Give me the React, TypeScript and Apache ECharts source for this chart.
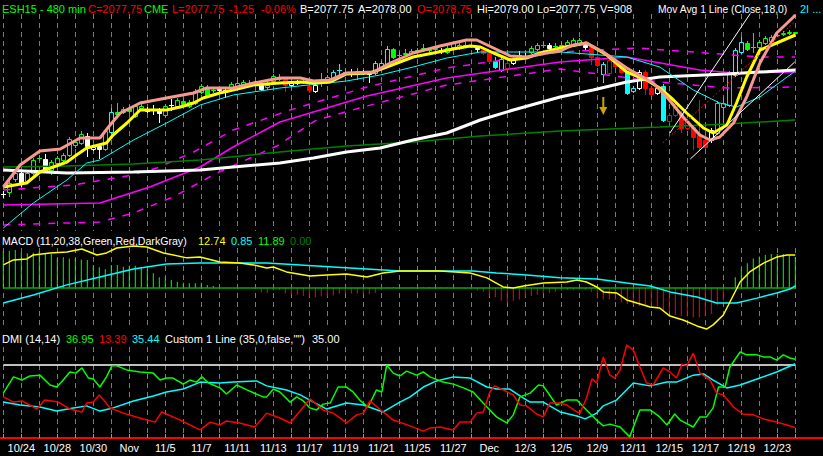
import React, { useEffect, useRef } from "react";
import * as echarts from "echarts";

// ---------------- data ----------------
const dayLabels = ["10/23","10/24","10/27","10/28","10/29","10/30","10/31","Nov","11/4","11/5","11/6","11/7","11/10","11/11","11/12","11/13","11/14","11/17","11/18","11/19","11/20","11/21","11/24","11/25","11/26","11/27","11/28","Dec","12/2","12/3","12/4","12/5","12/8","12/9","12/10","12/11","12/12","12/15","12/16","12/17","12/18","12/19","12/22","12/23","12/24"];
const barsPerDay = 3;

const barColorCodes =
  "WGGWGGGWGGGGGGWWWGCGGGGGWWWGWGGGGGGGWWGGGGWWGGG" +
  "RWWGRWGGCCGWGWWCCCGGGGGGGGWGGGGGWRRCCRWWWGGGWG" +
  "GGGGWRRCRRRCCWRRWCRRRRRRRWGGGCCGGGGGGGGG";

const opens = [1917,1919,1932,1938,1930,1938,1953,1952,1941,1948,
1951,1956,1966,1968,1975,1962,1965,1962,1979,1999,
1999,2003,1995,2003,2002,2002,2001,1996,2006,2005,
2010,2005,2008,2019,2022,2021,2022,2021,2024,2025,
2026,2028,2029,2026,2024,2030,2032,2033,2026,2029,
2030,2025,2020,2031,2029,2031,2041,2039,2039,2038,
2039,2038,2038,2043,2046,2062,2056,2057,2058,2060,
2062,2061,2062,2061,2059,2064,2063,2066,2065,2063,
2061,2058,2050,2041,2043,2048,2054,2055,2059,2062,
2066,2066,2065,2065,2066,2067,2068,2066,2064,2054,
2037,2038,2051,2046,2039,2020,2023,2039,2023,2018,
2025,1990,1996,1998,1983,1984,1976,1971,1971,1978,
2004,2006,2036,2059,2068,2064,2064,2068,2070,2076,
2077,2078,2078.75];

const closes = [1917,1928,1938,1928,1938,1951,1953,1940,1949,1953,
1956,1972,1969,1977,1965,1964,1962,1980,1999,1997,
2002,2000,2005,2005,2000,2001,1998,2005,2006,2011,
2007,2009,2020,2025,2016,2021,2021,2019,2027,2028,
2029,2028,2028,2022,2026,2035,2034,2026,2028,2028,
2030,2021,2026,2031,2034,2039,2041,2039,2039,2040,
2038,2037,2048,2048,2062,2054,2056,2058,2060,2061,
2063,2061,2063,2061,2063,2068,2066,2066,2066,2062,
2058,2050,2044,2052,2048,2051,2056,2055,2063,2066,
2066,2063,2065,2066,2069,2071,2071,2064,2054,2046,
2047,2051,2045,2039,2018,2023,2039,2023,2017,2023,
1991,1996,2007,1983,1990,1974,1964,1964,1981,2008,
2008,2038,2061,2069,2062,2064,2069,2073,2074,2076,
2078,2079,2077.75];

const lows = [1913,1914,1929,1924,1928,1936,1950,1938,1936,1946,
1949,1954,1963,1966,1954,1960,1952,1960,1977,1995,
1997,1998,1993,2000,1998,1996,1988,1994,2000,2003,
2005,2003,2006,2017,2014,2018,2019,2013,2022,2023,
2024,2025,2026,2020,2021,2028,2030,2019,2024,2026,
2027,2018,2018,2024,2027,2029,2035,2036,2034,2031,
2036,2028,2036,2041,2044,2052,2053,2054,2056,2058,
2059,2058,2060,2057,2057,2062,2061,2063,2063,2058,
2056,2048,2042,2039,2041,2046,2052,2052,2057,2060,
2063,2062,2062,2063,2064,2065,2066,2061,2046,2044,
2028,2036,2043,2037,2016,2018,2021,2016,2015,2016,
1989,1988,1994,1978,1981,1961,1961,1962,1968,1976,
1988,2004,2034,2057,2060,2058,2062,2066,2068,2074,
2075,2076,2077.75];

const highs = [1920,1930,1940,1939,1940,1953,1956,1957,1951,1955,
1958,1974,1972,1980,1978,1966,1967,1982,2003,2008,
2004,2006,2007,2010,2004,2006,2003,2007,2012,2013,
2012,2011,2022,2027,2026,2024,2024,2023,2029,2030,
2031,2031,2030,2028,2029,2037,2037,2034,2030,2031,
2033,2027,2028,2038,2036,2041,2047,2042,2042,2043,
2041,2040,2050,2050,2065,2063,2059,2062,2062,2063,
2067,2063,2065,2063,2065,2070,2068,2069,2068,2064,
2063,2059,2054,2054,2050,2053,2060,2058,2065,2068,
2069,2068,2068,2068,2071,2073,2073,2068,2066,2055,
2049,2053,2053,2048,2040,2025,2041,2041,2024,2025,
2027,1998,2009,2000,1992,1986,2011,1973,1983,2010,
2014,2040,2063,2074,2070,2078,2071,2075,2076,2078,
2080,2081,2079];

const lastVolume = 908;
const netChange = -1.25;
const bidPrice = 2077.75;
const askPrice = 2078.0;

// price-panel averages: [bar index, price]
const pinkAvg = [[0,1924],[2.8,1946],[6.1,1960],[9.5,1962],[12.8,1973],[16.1,1973],[17.8,1986],[19.5,1998],[22.8,2008],[27.2,2013],[31.7,2018],[33.9,2023],[38.3,2023],[41.7,2028],[46.1,2033],[49.5,2033],[51.7,2030],[54.5,2031],[57.2,2038],[61.7,2039],[64.5,2048],[68.3,2058],[72.8,2065],[77.2,2071],[78.9,2071],[81.7,2063],[84.5,2055],[87.2,2054],[90.6,2058],[92.8,2060],[95,2066],[97.2,2068],[100,2059],[103.9,2043],[108.3,2028],[110.6,2014],[113.3,1994],[116.1,1976],[117.8,1971],[119.4,1974],[121.7,1988],[123.9,2014],[126.1,2048],[128.9,2078],[131.7,2094],[132,2096]];
const yellowAvg = [[0,1924],[3.9,1928],[6.1,1939],[10.6,1949],[12.2,1956],[13.9,1963],[17.2,1968],[18.3,1976],[20.6,1988],[22.8,2001],[27.2,2001],[29.5,2004],[31.7,2008],[33.3,2013],[36.1,2018],[38.3,2021],[41.7,2026],[46.1,2028],[49.5,2029],[51.7,2028],[54.5,2029],[57.2,2037],[61.1,2038],[63.9,2044],[68.3,2054],[71.7,2058],[75,2062],[77.8,2065],[79.5,2064],[81.7,2058],[84.5,2051],[87.2,2053],[89.5,2058],[92.8,2063],[97.2,2068],[100.6,2056],[103.9,2039],[107.2,2031],[109.4,2023],[111.7,2011],[113.9,1998],[116.7,1983],[118.3,1978],[120.6,1986],[122.2,2008],[123.9,2034],[126.1,2061],[128.9,2068],[132,2076]];
const cyanAvg = [[0,1883],[5,1908],[10.6,1931],[13.9,1948],[16.1,1951],[21.7,1971],[27.2,1988],[32.8,2006],[38.3,2016],[46.1,2023],[57.2,2030],[62.8,2036],[68.3,2044],[73.9,2053],[79.5,2059],[85,2059],[92.8,2059],[103.9,2054],[109.4,2044],[115,2021],[119.4,2008],[122.2,2004],[126.1,2014],[132,2040]];
const whiteAvg = [[0,1941],[10.6,1938],[21.7,1939],[32.8,1941],[38.3,1944],[46.1,1948],[51.7,1953],[57.2,1959],[62.8,1963],[68.3,1971],[73.9,1978],[79.5,1991],[85,2001],[92.8,2014],[98.3,2021],[103.9,2029],[109.4,2034],[120.6,2037],[132,2041]];
const greenAvg = [[0,1944],[10.6,1945],[21.7,1947],[32.8,1951],[46.1,1959],[57.2,1965],[68.3,1969],[79.5,1975],[92.8,1980],[109.4,1984],[120.6,1987],[132,1991]];
const magentaMid = [[0,1906],[16.1,1908],[24.4,1924],[32.8,1944],[38.3,1964],[46.1,1989],[60.6,2015],[73.9,2033],[92.8,2049],[103.9,2054],[116.1,2041],[121.7,2038],[132,2039]];
const magentaUpper = [[0,1921],[11.7,1926],[20.6,1935],[25.6,1943],[31.7,1959],[38.3,1981],[47.8,2001],[60.6,2024],[73.9,2043],[92.8,2059],[105.6,2063],[115,2059],[126.1,2054],[132,2054]];
const magentaLower = [[0,1886],[10.6,1888],[16.1,1889],[21.7,1898],[28.3,1914],[35.6,1938],[45.6,1965],[52.2,1991],[60.6,2005],[73.9,2026],[92.8,2042],[109.4,2029],[120.6,2023],[132,2024]];

// drawn trendlines
const trendWhiteA = [[111.1,1978],[124.9,2101]];
const trendWhiteB = [[114.5,1952],[131.9,2049]];
const trendRed = [[109.9,1968],[131.9,2089]];
const arrowMark = [[100,2005]];

// MACD (11,20,38)
const macdHist = [14.2,14.2,14.6,13.7,13.4,13.6,14.2,13.1,13.1,11.4,
11.8,11.4,11.4,11.0,10.8,8.9,8.0,7.2,8.9,8.9,
8.2,8.6,8.6,8.0,7.3,5.7,4.1,4.1,3.1,2.4,
2.0,1.8,1.8,2.0,1.2,0.8,0.1,0.0,-0.1,0.1,
-0.2,-0.1,-0.3,-1.7,-1.8,-0.8,-0.8,-2.1,-2.6,-2.6,
-3.1,-3.6,-3.6,-3.3,-3.3,-2.9,-2.2,-2.1,-2.1,-2.1,
-2.2,-2.4,-1.8,-0.8,0.2,0.3,0.2,0.1,0.2,0.1,
0.2,0.3,0.2,0.1,0.1,-0.1,-0.2,-0.3,-0.5,-1.0,
-1.4,-3.3,-3.6,-4.9,-5.6,-4.9,-4.4,-3.6,-3.1,-2.6,
-2.1,-1.8,-1.4,-1.0,-0.8,-0.8,-0.5,-0.8,-1.4,-4.0,
-4.4,-4.4,-4.4,-5.6,-6.2,-6.6,-6.9,-6.9,-6.9,-7.2,
-8.7,-9.0,-10.4,-10.8,-11.0,-11.3,-11.3,-10.8,-10.0,-6.6,
-4.9,0.0,4.1,7.6,9.5,11.4,12.1,12.7,13.1,13.1,
13.1,12.7,11.89];
const macdLine = [[0,8.9],[1.7,10.8],[3.9,11.2],[5,12.7],[7.8,13.5],[10.6,13.9],[13.1,15.0],[15.6,12.7],[17.2,13.5],[18.9,15.4],[21.7,16.2],[23.9,15.8],[26.7,13.5],[30.6,11.6],[32.8,11.9],[36.1,10.0],[39.4,9.6],[41.7,8.9],[43.9,7.7],[45,8.1],[47.2,6.2],[51.1,4.6],[53.9,5.0],[57.2,5.4],[60.6,4.2],[63.3,5.8],[66.1,6.5],[72.8,6.5],[77.8,5.8],[80.6,3.9],[83.3,0.4],[85,0],[86.7,0.8],[90,1.9],[93.9,2.3],[95.6,3.1],[97.2,2.3],[98.9,0.4],[100,-1.5],[102.2,-1.9],[103.9,-4.6],[105.6,-5.8],[107.8,-7.3],[109.4,-7.7],[111.1,-10.8],[113.3,-12.3],[115.6,-14.6],[117.2,-15.8],[118.3,-14.2],[120,-10.4],[121.1,-5.4],[122.8,2.3],[124.4,6.2],[126.7,9.6],[128.9,11.9],[130.6,12.7],[132,12.74]];
const macdAvg = [[0,-5.8],[5,-2.7],[10.6,1.2],[16.1,4.2],[21.7,7.3],[27.2,9.2],[32.8,9.6],[38.3,9.6],[43.9,9.6],[49.5,8.9],[55,8.1],[60.6,7.3],[66.1,6.5],[72.8,6.5],[78.3,6.5],[82.2,5.8],[87.2,5.0],[92.8,3.9],[98.9,3.5],[103.9,1.9],[107.8,0.8],[111.1,-1.5],[115.6,-3.5],[118.9,-5.8],[122.2,-5.8],[125.6,-3.9],[128.9,-1.9],[131.1,-0.4],[132,0.85]];

// DMI (14,14)
const dmiPlus = [[0,25.3],[1.7,30.9],[3.1,29.8],[4.4,31.2],[6.1,31.5],[7.8,28.1],[8.9,27.4],[9.7,29.1],[11.1,32.6],[12.1,32.2],[13.1,34.0],[14.2,30.5],[15,30.2],[16.1,27.4],[17.2,30.9],[18.1,34.7],[18.9,34.7],[20.6,33.3],[21.7,32.9],[22.8,32.6],[25,32.2],[26.1,29.8],[27.2,30.5],[28.3,30.5],[30,28.4],[31.1,29.8],[32.2,29.1],[33.1,30.9],[34.2,28.8],[36.1,27.1],[37.2,25.0],[38.9,28.1],[40.6,26.4],[43.3,24.0],[43.9,24.0],[45,26.7],[46.1,25.7],[47.8,22.2],[48.9,24.0],[50,22.6],[51.1,20.2],[52.2,19.5],[53.3,21.5],[54.5,21.9],[55.8,27.4],[57.2,27.4],[58.3,25.7],[59.4,22.9],[60.8,20.5],[62.2,26.4],[63.1,25.7],[63.9,35.0],[65,32.2],[66.1,31.2],[67.2,32.9],[68.9,31.5],[70,32.6],[71.1,30.9],[73.3,29.1],[75,28.4],[76.7,27.1],[78.3,25.7],[80.6,20.5],[82.2,17.1],[83.9,15.0],[85,17.8],[86.1,24.0],[87.8,25.3],[89.2,28.1],[90,27.8],[92.2,21.2],[93.9,22.9],[95.6,22.9],[97.2,19.5],[98.9,16.0],[100,14.0],[101.1,14.6],[102.8,13.6],[104.4,10.2],[106.1,19.5],[107.8,19.5],[109.4,17.1],[110.6,14.3],[111.9,18.1],[112.8,16.0],[115,13.6],[116.1,17.1],[117.2,17.1],[118.3,20.2],[119.2,27.4],[120.3,27.4],[121.1,34.3],[122.8,39.5],[123.9,38.5],[125.6,38.5],[126.7,37.8],[127.8,37.8],[128.9,36.7],[130,38.5],[131.1,37.4],[132,36.95]];
const dmiMinus = [[0,24.0],[1.7,22.2],[3.1,22.6],[4.4,21.2],[5.6,19.8],[6.9,22.9],[9.2,22.2],[11.1,19.8],[13.1,18.8],[13.9,21.9],[15,22.2],[16,24.7],[17.8,20.2],[20,18.4],[23.3,16.4],[25.3,15.3],[26.4,18.8],[29.5,16.0],[32.8,12.6],[34.5,15.3],[36.1,14.3],[37.2,15.7],[39.4,15.0],[41.9,13.6],[43.9,18.4],[46.1,16.7],[47.8,15.0],[51.1,23.3],[53.3,19.5],[55,18.4],[57.2,15.0],[58.9,17.8],[60,18.4],[61.1,22.6],[63.3,18.8],[65,16.0],[67.8,14.0],[70,12.2],[71.1,13.3],[72.8,13.6],[75,12.6],[76.1,15.3],[77.8,15.3],[78.9,18.4],[80,18.8],[81.1,25.7],[81.9,27.8],[83.3,26.4],[85,24.7],[86.1,21.2],[87.2,20.9],[88.9,18.1],[90,17.1],[91.1,21.9],[92.8,21.9],[93.9,21.2],[95.6,18.8],[96.1,18.4],[97.2,23.6],[98.1,30.2],[98.9,28.8],[100,37.8],[101.1,31.5],[101.9,30.5],[102.8,33.3],[103.9,41.9],[105,40.2],[106.1,34.3],[107.2,28.8],[108.3,28.1],[110,34.0],[111.1,32.6],[112.2,30.5],[113.1,35.3],[113.9,34.7],[115,39.1],[116.1,32.2],[117.8,29.8],[118.9,25.3],[120,24.7],[121.7,20.5],[123.3,18.1],[125,17.8],[126.7,16.4],[128.9,15.3],[130.6,14.3],[132,13.39]];
const adx = [[0,22.2],[2.8,21.2],[6.1,20.5],[8.9,19.1],[11.7,20.2],[13.9,20.9],[16.1,19.1],[18.3,20.2],[21.7,22.6],[25,24.3],[27.2,25.7],[30,26.7],[32.8,29.1],[36.1,28.8],[38.3,29.1],[42.2,29.5],[43.9,27.8],[47.2,26.4],[49.5,24.7],[51.7,22.2],[53.9,19.8],[57.2,21.9],[60,21.2],[63.3,18.8],[66.1,22.2],[67.8,24.0],[70,27.4],[72.2,29.5],[75,30.9],[77.8,30.5],[80.6,27.4],[82.2,26.7],[84.4,26.7],[86.7,23.6],[87.8,22.2],[90,22.2],[92.8,18.8],[95.6,17.4],[97,16.4],[98.9,18.4],[100,20.9],[102.2,22.9],[105,28.8],[107.8,27.8],[110.6,29.1],[112.2,29.1],[115,31.5],[116.7,31.9],[118.3,29.8],[120.6,27.1],[122.8,28.1],[126.1,30.5],[128.9,32.6],[132,35.44]];
const customLineLevel = 35;

// ---------------- chart ----------------
const FONT = '"Liberation Sans", Arial, sans-serif';
const FS = 11;
const palette: Record<string, string> = { G: "#00ff00", R: "#ff0000", C: "#00ffff", W: "#ffffff" };

export default function App() {
  const ref = useRef<HTMLDivElement>(null);

  useEffect(() => {
    document.body.style.margin = "0";
    document.body.style.background = "#000";
    const chart = echarts.init(ref.current as HTMLDivElement, null, { renderer: "svg" });

    const lastIdx = opens.length - 1;
    const lastX = lastIdx;
    const f2 = (v: number) => v.toFixed(2);

    const candleData = opens.map((o, i) => [i, o, closes[i], lows[i], highs[i]]);

    const renderCandle = (params: any, api: any) => {
      const i = api.value(0);
      const o = api.value(1);
      const c = api.value(2);
      const l = api.value(3);
      const h = api.value(4);
      const col = palette[barColorCodes[params.dataIndex]] || "#ffffff";
      const pO = api.coord([i, o]);
      const pC = api.coord([i, c]);
      const pL = api.coord([i, l]);
      const pH = api.coord([i, h]);
      const x = Math.round(pO[0]) + 0.5;
      const top = Math.round(Math.min(pO[1], pC[1])) + 0.5;
      const bot = Math.round(Math.max(pO[1], pC[1])) + 0.5;
      const children: any[] = [
        { type: "line", shape: { x1: x, y1: pH[1], x2: x, y2: pL[1] }, style: { stroke: col, lineWidth: 1 } },
      ];
      if (bot - top < 1) {
        children.push({ type: "line", shape: { x1: x - 2.5, y1: top, x2: x + 2.5, y2: top }, style: { stroke: col, lineWidth: 1 } });
      } else {
        children.push({
          type: "rect",
          shape: { x: x - 2, y: top, width: 4, height: bot - top },
          style: { fill: c > o ? "#000000" : col, stroke: col, lineWidth: 1 },
        });
      }
      return { type: "group", children };
    };

    const gridL = 3.3;
    const gridR = 823 - (3.3 + 6 * lastX);

    const splitLine = { show: true, lineStyle: { color: "#7a7a7a", width: 1, type: [5, 4] } };
    const mkX = (gi: number, withLabels: boolean) => ({
      type: "value",
      gridIndex: gi,
      min: 0,
      max: lastX,
      interval: barsPerDay,
      axisLine: { show: false },
      axisTick: withLabels
        ? { show: true, inside: true, length: 4, lineStyle: { color: "#9a9a9a" } }
        : { show: false },
      axisLabel: withLabels
        ? {
            show: true,
            color: "#ffffff",
            fontFamily: FONT,
            fontSize: FS,
            margin: 4,
            formatter: (v: number) => {
              const k = Math.round(v / barsPerDay);
              return k % 2 === 1 && dayLabels[k] ? dayLabels[k] : "";
            },
          }
        : { show: false },
      splitLine,
    });
    const mkY = (gi: number, min: number, max: number) => ({
      type: "value", gridIndex: gi, min, max, show: false, splitLine: { show: false },
    });

    const line = (data: number[][], color: string, width: number, gi: number, extra: any = {}) => ({
      type: "line",
      xAxisIndex: gi,
      yAxisIndex: gi,
      data,
      symbol: "none",
      showSymbol: false,
      silent: true,
      lineStyle: { color, width, ...(extra.lineStyle || {}) },
      ...Object.fromEntries(Object.entries(extra).filter(([k]) => k !== "lineStyle")),
    });

    const headerItems = [
      { t: "ESH15 - 480 min", c: "#00ff00", x: 2 },
      { t: "C=" + f2(closes[lastIdx]), c: "#ff0000", x: 88 },
      { t: "CME", c: "#00ff00", x: 144 },
      { t: "L=" + f2(closes[lastIdx]), c: "#ff0000", x: 172 },
      { t: f2(netChange), c: "#ff0000", x: 229 },
      { t: ((netChange / (closes[lastIdx] - netChange)) * 100).toFixed(2) + "%", c: "#ff0000", x: 261 },
      { t: "B=" + f2(bidPrice), c: "#ffffff", x: 300 },
      { t: "A=" + f2(askPrice), c: "#ffffff", x: 358 },
      { t: "O=" + f2(opens[lastIdx]), c: "#ff0000", x: 417 },
      { t: "Hi=" + f2(highs[lastIdx]), c: "#ffffff", x: 477 },
      { t: "Lo=" + f2(lows[lastIdx]), c: "#ffffff", x: 537 },
      { t: "V=" + lastVolume, c: "#ffffff", x: 600 },
      { t: "Mov Avg 1 Line (Close,18,0)", c: "#ffffff", x: 658, fs: 10.3 },
      { t: "2I ...", c: "#00ffff", x: 800 },
    ];
    const lastOf = (arr: number[][]) => arr[arr.length - 1][1];
    const macdItems = [
      { t: "MACD (11,20,38,Green,Red,DarkGray)", c: "#ffffff", x: 2, fs: 10.6 },
      { t: f2(lastOf(macdLine)), c: "#ffff00", x: 198 },
      { t: f2(lastOf(macdAvg)), c: "#00ffff", x: 231 },
      { t: f2(macdHist[lastIdx]), c: "#00ff00", x: 258 },
      { t: "0.00", c: "#008000", x: 290 },
    ];
    const dmiItems = [
      { t: "DMI (14,14)", c: "#ffffff", x: 2 },
      { t: f2(lastOf(dmiPlus)), c: "#00ff00", x: 66 },
      { t: f2(lastOf(dmiMinus)), c: "#ff0000", x: 99 },
      { t: f2(lastOf(adx)), c: "#00ffff", x: 132 },
      { t: 'Custom 1 Line (35,0,false,"")', c: "#ffffff", x: 165 },
      { t: f2(customLineLevel), c: "#ffffff", x: 312 },
    ];
    const txt = (items: any[], y: number) =>
      items.map((it) => ({
        type: "text",
        x: it.x,
        y,
        silent: true,
        style: { text: it.t, fill: it.c, font: `${it.fs || FS}px ${FONT}`, verticalAlign: "middle", align: "left" },
      }));

    const option: any = {
      animation: false,
      backgroundColor: "#000000",
      grid: [
        { left: gridL, right: gridR, top: 14, height: 217 },
        { left: gridL, right: gridR, top: 248, height: 81 },
        { left: gridL, right: gridR, top: 347, height: 91 },
      ],
      xAxis: [mkX(0, false), mkX(1, false), mkX(2, true)],
      yAxis: [mkY(0, 1880, 2097), mkY(1, -15.785, 15.4), mkY(2, 9.815, 41.21)],
      graphic: [
        ...txt(headerItems, 9),
        ...txt(macdItems, 241),
        ...txt(dmiItems, 339),
        { type: "line", silent: true, shape: { x1: 0, y1: 438, x2: 823, y2: 438 }, style: { stroke: "#ff0000", lineWidth: 2 } },
      ],
      series: [
        line(magentaLower, "#ff00ff", 1.5, 0, { lineStyle: { type: [7, 8] } }),
        line(magentaUpper, "#ff00ff", 1.5, 0, { lineStyle: { type: [7, 8] } }),
        line(magentaMid, "#ff00ff", 1.5, 0),
        line(greenAvg, "#008000", 1.5, 0),
        line(whiteAvg, "#ffffff", 3, 0),
        line(cyanAvg, "#00ffff", 1, 0),
        {
          type: "custom",
          xAxisIndex: 0,
          yAxisIndex: 0,
          data: candleData,
          encode: { x: 0, y: [1, 2, 3, 4] },
          renderItem: renderCandle,
          clip: false,
          silent: true,
        },
        line(yellowAvg, "#ffff00", 3, 0),
        line(pinkAvg, "#f49a90", 3, 0, { clip: false }),
        line(trendWhiteA, "#ffffff", 1, 0),
        line(trendWhiteB, "#ffffff", 1, 0),
        line(trendRed, "#ff0000", 1, 0, { lineStyle: { type: [2, 2] } }),
        {
          type: "scatter",
          xAxisIndex: 0,
          yAxisIndex: 0,
          data: arrowMark,
          symbol: "path://M3,0 L5,0 L5,10 L8,10 L4,18 L0,10 L3,10 Z",
          symbolSize: [8, 18],
          itemStyle: { color: "#ffcc00" },
          silent: true,
        },
        // MACD panel
        {
          type: "bar",
          xAxisIndex: 1,
          yAxisIndex: 1,
          barWidth: 1,
          silent: true,
          data: macdHist.map((v, i) => ({
            value: [i, v],
            itemStyle: { color: v >= 0 ? "#00ff00" : "#ff0000" },
          })),
        },
        line([[0, 0], [lastX, 0]], "#00b000", 1.5, 1, { clip: false }),
        line(macdAvg, "#00ffff", 1.5, 1, { clip: false }),
        line(macdLine, "#ffff00", 1.5, 1, { clip: false }),
        // DMI panel
        line([[0, customLineLevel], [lastX, customLineLevel]], "#ffffff", 1.5, 2, { clip: false }),
        line(adx, "#00ffff", 1.5, 2, { clip: false }),
        line(dmiPlus, "#00ff00", 1.5, 2),
        line(dmiMinus, "#ff0000", 1.5, 2, { clip: false }),
      ],
    };

    chart.setOption(option);
    return () => chart.dispose();
  }, []);

  return <div ref={ref} style={{ width: 823, height: 456, background: "#000" }} />;
}
